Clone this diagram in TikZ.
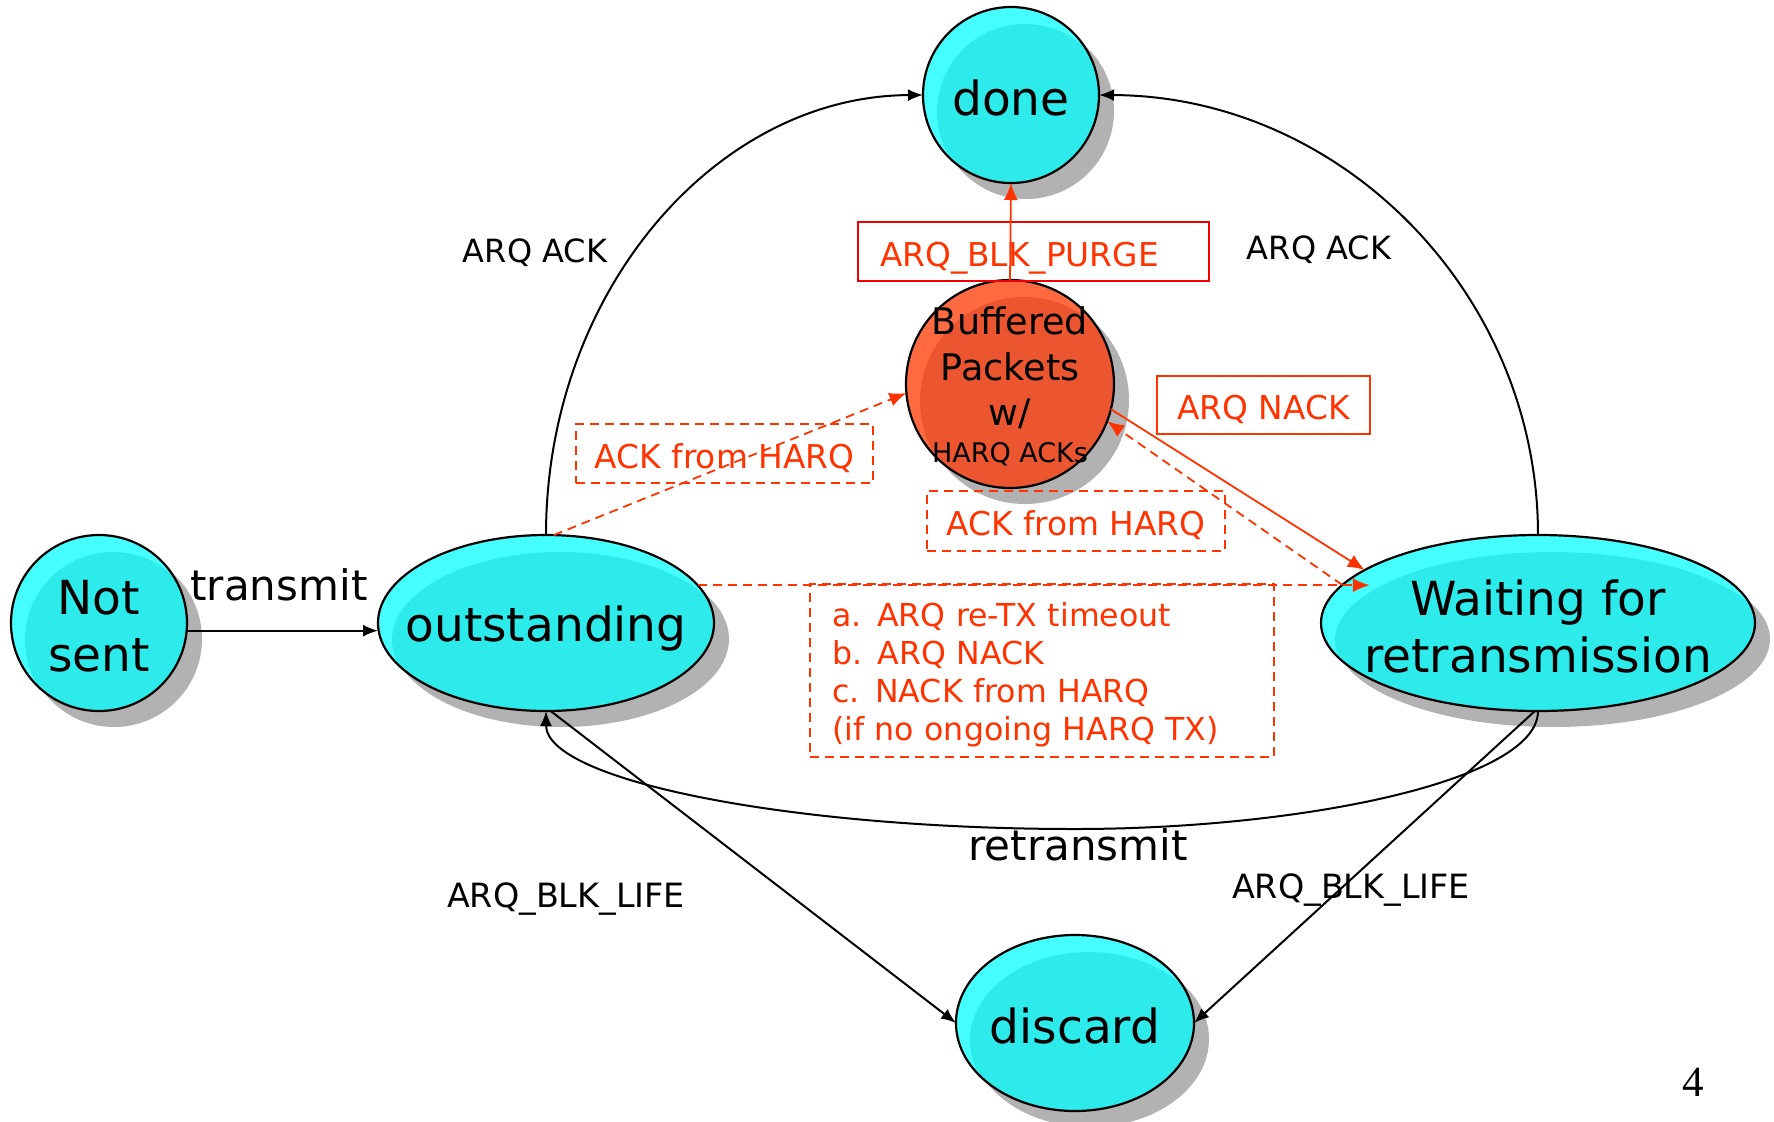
\documentclass[tikz,border=0pt]{standalone}
\usepackage{fontspec}
\setmainfont{DejaVu Sans}
\newfontfamily\serifnum{Liberation Serif}
\usetikzlibrary{shapes.geometric,arrows.meta}
\definecolor{cyanlight}{HTML}{45FFFF}
\definecolor{cyandark}{HTML}{2DEBEB}
\definecolor{orglight}{HTML}{FF6A40}
\definecolor{orgdark}{HTML}{EB5530}
\definecolor{shadowgray}{HTML}{B2B2B2}
\definecolor{redtxt}{HTML}{FF3300}
\definecolor{purered}{HTML}{F00000}
\newcommand{\blob}[6]{%
  \fill[shadowgray] (#1+15,#2+16) ellipse [x radius=#3, y radius=#4];
  \begin{scope}
    \clip (#1,#2) ellipse [x radius=#3, y radius=#4];
    \fill[#5] (#1,#2) ellipse [x radius=#3, y radius=#4];
    \fill[#6] (#1+14,#2+17) ellipse [x radius=#3, y radius=#4];
  \end{scope}}
\begin{document}
\begin{tikzpicture}[x=0.5pt,y=-0.5pt,
  st/.style={ellipse, draw=black, line width=1.1pt, inner sep=0pt, outer sep=0pt},
  bigtxt/.style={align=center, font=\fontsize{23.5}{28.5}\selectfont, yshift=-1.5pt},
  lbl/.style={inner sep=0pt, font=\fontsize{16}{19}\selectfont},
  midlbl/.style={inner sep=0pt, font=\fontsize{21}{25}\selectfont},
  rsolid/.style={draw=redtxt, line width=0.9pt, text=redtxt, inner sep=0pt,
    text height=17.5pt, text depth=3pt, font=\fontsize{16.4}{19.7}\selectfont},
  rdash/.style={rsolid, dash pattern=on 4.5pt off 3pt},
  blk/.style={draw=black, line width=1pt, -{Latex[length=7.5pt,width=6pt]}},
  rarr/.style={draw=redtxt, line width=0.9pt, -{Latex[length=8.5pt,width=7pt]}},
  rdarr/.style={rarr, dash pattern=on 4.5pt off 3pt}]
\useasboundingbox (0,0) rectangle (1774,1121);
\fill[white] (0,0) rectangle (1774,1121);

% bodies with shadows
\blob{1011}{95}{88}{88}{cyanlight}{cyandark}
\blob{1010}{384}{104}{104}{orglight}{orgdark}
\blob{99}{623}{88}{88}{cyanlight}{cyandark}
\blob{546}{623}{168}{88}{cyanlight}{cyandark}
\blob{1538}{623}{217}{88}{cyanlight}{cyandark}
\blob{1075}{1023}{119}{88}{cyanlight}{cyandark}

% state nodes
\node[st, minimum width=88pt, minimum height=88pt,
  label={[bigtxt]center:done}] (done) at (1011,95) {};
\node[st, minimum width=104pt, minimum height=104pt,
  label={[align=center, yshift=-1.3pt, font=\fontsize{18.3}{22.6}\selectfont]center:Buffered\\Packets\\w/\\[-4pt]{\fontsize{13.5}{16}\selectfont HARQ ACKs}}] (buf) at (1010,384) {};
\node[st, minimum width=88pt, minimum height=88pt,
  label={[bigtxt]center:Not\\sent}] (ns) at (99,623) {};
\node[st, minimum width=168pt, minimum height=88pt,
  label={[bigtxt, yshift=-1.5pt]center:outstanding}] (out) at (546,623) {};
\node[st, minimum width=217pt, minimum height=88pt,
  label={[bigtxt]center:Waiting for\\retransmission}] (wait) at (1538,623) {};
\node[st, minimum width=119pt, minimum height=88pt,
  label={[bigtxt]center:discard}] (disc) at (1075,1023) {};

% red boxes
\node[rsolid, draw=purered, minimum width=175.5pt, minimum height=29.5pt, text width=153.5pt, inner xsep=11pt, align=left] (purge) at (1033.5,251.5) {ARQ\_BLK\_PURGE};
\node[rsolid, minimum width=106.5pt, minimum height=29pt] (nack) at (1263.5,405) {ARQ NACK};
\node[rdash, minimum width=148.5pt, minimum height=29.5pt] (ackA) at (724.5,453.5) {ACK from HARQ};
\node[rdash, minimum width=149pt, minimum height=30pt] (ackB) at (1076,521) {ACK from HARQ};
\node[draw=redtxt, line width=0.9pt, dash pattern=on 4.5pt off 3pt, inner sep=0pt,
  minimum width=232pt, minimum height=86.5pt,
  label={[text=redtxt, inner sep=0pt, text width=210pt, align=left, yshift=-2.3pt,
    font=\fontsize{15.8}{19}\selectfont]center:a. ARQ re-TX timeout\\b. ARQ NACK\\c. NACK from HARQ\\(if no ongoing HARQ TX)}]
  (cond) at (1042,670.5) {};

% black labels
\node[lbl] (ackL) at (535,253) {ARQ ACK};
\node[lbl] (ackR) at (1319,250) {ARQ ACK};
\node[midlbl] (trans) at (279,585) {transmit};
\node[midlbl] (retr) at (1078,845) {retransmit};
\node[lbl, font=\fontsize{16.7}{20}\selectfont] (lifeL) at (566,899) {ARQ\_BLK\_LIFE};
\node[lbl, font=\fontsize{16.7}{20}\selectfont] (lifeR) at (1351,890) {ARQ\_BLK\_LIFE};
\node[inner sep=0pt, font=\serifnum\fontsize{21.5}{25}\selectfont] (page) at (1693,1082) {4};

% black connectors
\draw[blk] (ns.-5) -- (ns.-5 -| out.west);
\draw[blk] (out.north) .. controls (546,293) and (715,96) .. (done.west);
\draw[blk] (wait.north) .. controls (1538,293) and (1341,96) .. (done.east);
\draw[blk] (wait.south) .. controls (1538,781) and (1301,829) .. (1075,829)
  .. controls (792,829) and (546,781) .. (out.south);
\draw[blk] (out.-87) -- (disc.west);
\draw[blk] (wait.-92) -- (disc.east);

% red connectors
\draw[rarr] (buf.north) -- (done.south);
\draw[rdarr] (out.85) -- (buf.185);
\draw[rarr] (buf.-14) -- (wait.163);
\draw[rdarr] (wait.169) -- (buf.-21);
\draw[rdarr] (out.14.5) -- ([xshift=12pt]out.14.5 -| wait.168.7);
\end{tikzpicture}
\end{document}
